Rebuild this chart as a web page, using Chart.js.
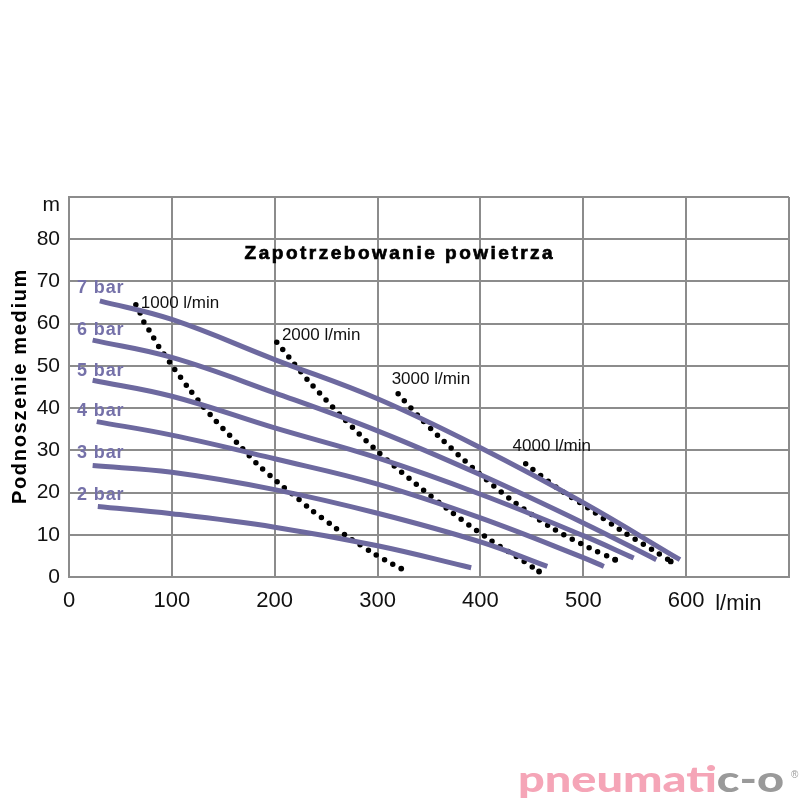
<!DOCTYPE html>
<html><head><meta charset="utf-8">
<script src="https://cdn.jsdelivr.net/npm/chart.js@4.4.1/dist/chart.umd.min.js"></script>
<style>html,body{margin:0;padding:0;background:#fff;}canvas{display:block;}</style>
</head><body>
<canvas id="c" width="800" height="800"></canvas>
<script>
// ---- data ----
const xTickValues = [0, 100, 200, 300, 400, 500, 600, 700];
const yTickValues = [0, 10, 20, 30, 40, 50, 60, 70, 80, 90];

const pressureLabels = ['7 bar', '6 bar', '5 bar', '4 bar', '3 bar', '2 bar'];
const flow7bar = [30, 100, 200, 300, 400, 500, 594];
const head7bar = [65.4, 61.0, 51.5, 42.2, 30.6, 17.6, 4.1];
const flow6bar = [23, 100, 200, 300, 400, 500, 571];
const head6bar = [56.1, 52.0, 43.6, 34.6, 24.2, 12.8, 4.1];
const flow5bar = [23, 100, 200, 300, 400, 500, 549];
const head5bar = [46.6, 42.8, 35.3, 28.2, 19.6, 9.8, 4.5];
const flow4bar = [27, 100, 200, 300, 400, 500, 520];
const head4bar = [36.8, 33.6, 28.0, 22.0, 14.0, 4.6, 2.5];
const flow3bar = [23, 100, 200, 300, 400, 465];
const head3bar = [26.4, 24.8, 20.7, 15.1, 8.3, 2.5];
const flow2bar = [28, 100, 200, 300, 391];
const head2bar = [16.7, 15.0, 11.8, 7.4, 2.2];

const airLabels = ['1000 l/min', '2000 l/min', '3000 l/min', '4000 l/min'];
const flowAir1000 = [65, 69, 73, 78, 88, 99.5, 116.6, 129, 141.5, 168.3, 182, 203.5, 219, 234, 257, 273, 297.5, 314, 323];
const headAir1000 = [64.5, 62.6, 60.3, 58.4, 54.3, 50.3, 44.6, 40.8, 37.3, 30.5, 27.0, 22.3, 19.3, 16.2, 12.0, 9.2, 5.4, 3.1, 2.0];
const flowAir2000 = [202, 214, 233, 266, 301, 338, 369, 408, 441, 457];
const headAir2000 = [55.6, 52.0, 46.4, 37.8, 29.5, 21.9, 15.9, 9.0, 3.9, 1.3];
const flowAir3000 = [320, 340, 359.5, 395, 432, 471, 505, 531];
const headAir3000 = [43.4, 38.0, 33.3, 25.3, 17.9, 11.4, 7.0, 4.1];
const flowAir4000 = [444, 474, 505.5, 537, 569, 585];
const headAir4000 = [26.8, 21.2, 16.2, 11.0, 6.2, 3.7];

// ---- label placement (not data) ----
const pressureLabelPos = [[7.7, 67.2], [7.7, 57.4], [7.7, 47.7], [7.7, 38.1], [7.7, 28.2], [7.7, 18.2]];
const airLabelPos = [[69.8, 63.7], [207, 56.1], [313.7, 45.6], [431.2, 29.8]];

const LINE = '#6d699f';
const GRID = '#8c8c8c';
const FONT = '"Liberation Sans", Arial, sans-serif';

const pts = (xs, ys) => xs.map((x, i) => ({ x: x, y: ys[i] }));
const curve = (xs, ys) => ({
  data: pts(xs, ys), borderColor: LINE, borderWidth: 5, pointRadius: 0,
  tension: 0.4, borderCapStyle: 'butt', fill: false
});
const dotted = (xs, ys) => ({
  data: pts(xs, ys), borderColor: '#000', borderWidth: 5.5,
  pointRadius: c => (c.dataIndex === xs.length - 1 ? 2.9 : 0),
  pointBackgroundColor: '#000', pointBorderWidth: 0,
  tension: 0.3, borderDash: [0, 9.5], borderCapStyle: 'round', fill: false
});

const textPlugin = {
  id: 'texts',
  afterDraw(chart) {
    const ctx = chart.ctx, xs = chart.scales.x, ys = chart.scales.y, ca = chart.chartArea;
    ctx.save();
    // chart title
    ctx.font = 'bold 19px ' + FONT;
    ctx.fillStyle = '#000';
    ctx.strokeStyle = '#000';
    ctx.lineWidth = 0.7;
    ctx.textAlign = 'center';
    ctx.textBaseline = 'alphabetic';
    ctx.letterSpacing = '2.5px';
    const tx = xs.getPixelForValue(321.7), ty = ys.getPixelForValue(75.4);
    ctx.fillText('Zapotrzebowanie powietrza', tx, ty);
    ctx.strokeText('Zapotrzebowanie powietrza', tx, ty);
    // pressure labels
    ctx.font = 'bold 18px ' + FONT;
    ctx.fillStyle = '#7571a9';
    ctx.textAlign = 'left';
    ctx.letterSpacing = '0.9px';
    pressureLabels.forEach((t, i) => {
      ctx.fillText(t, xs.getPixelForValue(pressureLabelPos[i][0]), ys.getPixelForValue(pressureLabelPos[i][1]));
    });
    // air consumption labels
    ctx.font = '17px ' + FONT;
    ctx.fillStyle = '#111';
    ctx.letterSpacing = '0px';
    airLabels.forEach((t, i) => {
      ctx.fillText(t, xs.getPixelForValue(airLabelPos[i][0]), ys.getPixelForValue(airLabelPos[i][1]));
    });
    // unit labels
    ctx.font = '22px ' + FONT;
    ctx.fillText('l/min', xs.getPixelForValue(600) + 29, ca.bottom + 33);
    ctx.font = '21px ' + FONT;
    ctx.textAlign = 'right';
    ctx.fillText('m', ys.left + ys.width - 9, ys.getPixelForValue(90) + 14);
    // y axis title
    ctx.save();
    ctx.translate(20, (ca.top + ca.bottom) / 2 - 1);
    ctx.rotate(-Math.PI / 2);
    ctx.font = 'bold 20px ' + FONT;
    ctx.fillStyle = '#000';
    ctx.textAlign = 'center';
    ctx.textBaseline = 'middle';
    ctx.letterSpacing = '1.7px';
    ctx.fillText('Podnoszenie medium', 0, 0);
    ctx.restore();
    // logo
    ctx.letterSpacing = '0px';
    ctx.textBaseline = 'alphabetic';
    ctx.textAlign = 'left';
    ctx.font = '900 36px Lato, "Open Sans", sans-serif';
    const a = 'pneumati', b = 'c-o';
    const wa = ctx.measureText(a).width, wb = ctx.measureText(b).width;
    const target = 266, sx = target / (wa + wb);
    ctx.save();
    ctx.translate(518, 792);
    ctx.scale(sx, 1);
    ctx.fillStyle = '#f5a5b7';
    ctx.fillText(a, 0, 0);
    ctx.fillStyle = '#9a9a9a';
    ctx.fillText(b, wa, 0);
    ctx.restore();
    ctx.font = '10px ' + FONT;
    ctx.fillStyle = '#9a9a9a';
    ctx.fillText('®', 791, 778);
    ctx.restore();
  }
};

new Chart(document.getElementById('c'), {
  type: 'line',
  data: {
    datasets: [
      curve(flow7bar, head7bar), curve(flow6bar, head6bar), curve(flow5bar, head5bar),
      curve(flow4bar, head4bar), curve(flow3bar, head3bar), curve(flow2bar, head2bar),
      dotted(flowAir1000, headAir1000), dotted(flowAir2000, headAir2000),
      dotted(flowAir3000, headAir3000), dotted(flowAir4000, headAir4000)
    ]
  },
  options: {
    responsive: false,
    animation: false,
    layout: { padding: { top: 197, right: 4.5, left: 0, bottom: 0 } },
    plugins: { legend: { display: false }, tooltip: { enabled: false }, title: { display: false } },
    scales: {
      x: {
        type: 'linear', min: 0, max: 700,
        afterBuildTicks: s => { s.ticks = xTickValues.map(v => ({ value: v })); },
        afterFit: s => { s.height = 223; },
        ticks: {
          callback: v => (v === 700 ? '' : String(v)),
          font: { size: 22, family: FONT }, color: '#111', padding: 11, maxRotation: 0, autoSkip: false
        },
        grid: { color: GRID, lineWidth: 2, drawTicks: false },
        border: { display: true, color: GRID, width: 2 }
      },
      y: {
        type: 'linear', min: 0, max: 90,
        afterBuildTicks: s => { s.ticks = yTickValues.map(v => ({ value: v })); },
        afterFit: s => { s.width = 69; },
        ticks: {
          callback: v => (v === 90 ? '' : String(v)),
          font: { size: 21, family: FONT }, color: '#111', padding: 9, autoSkip: false
        },
        grid: { color: GRID, lineWidth: 2, drawTicks: false },
        border: { display: true, color: GRID, width: 2 }
      }
    }
  },
  plugins: [textPlugin]
});
</script>
</body></html>
